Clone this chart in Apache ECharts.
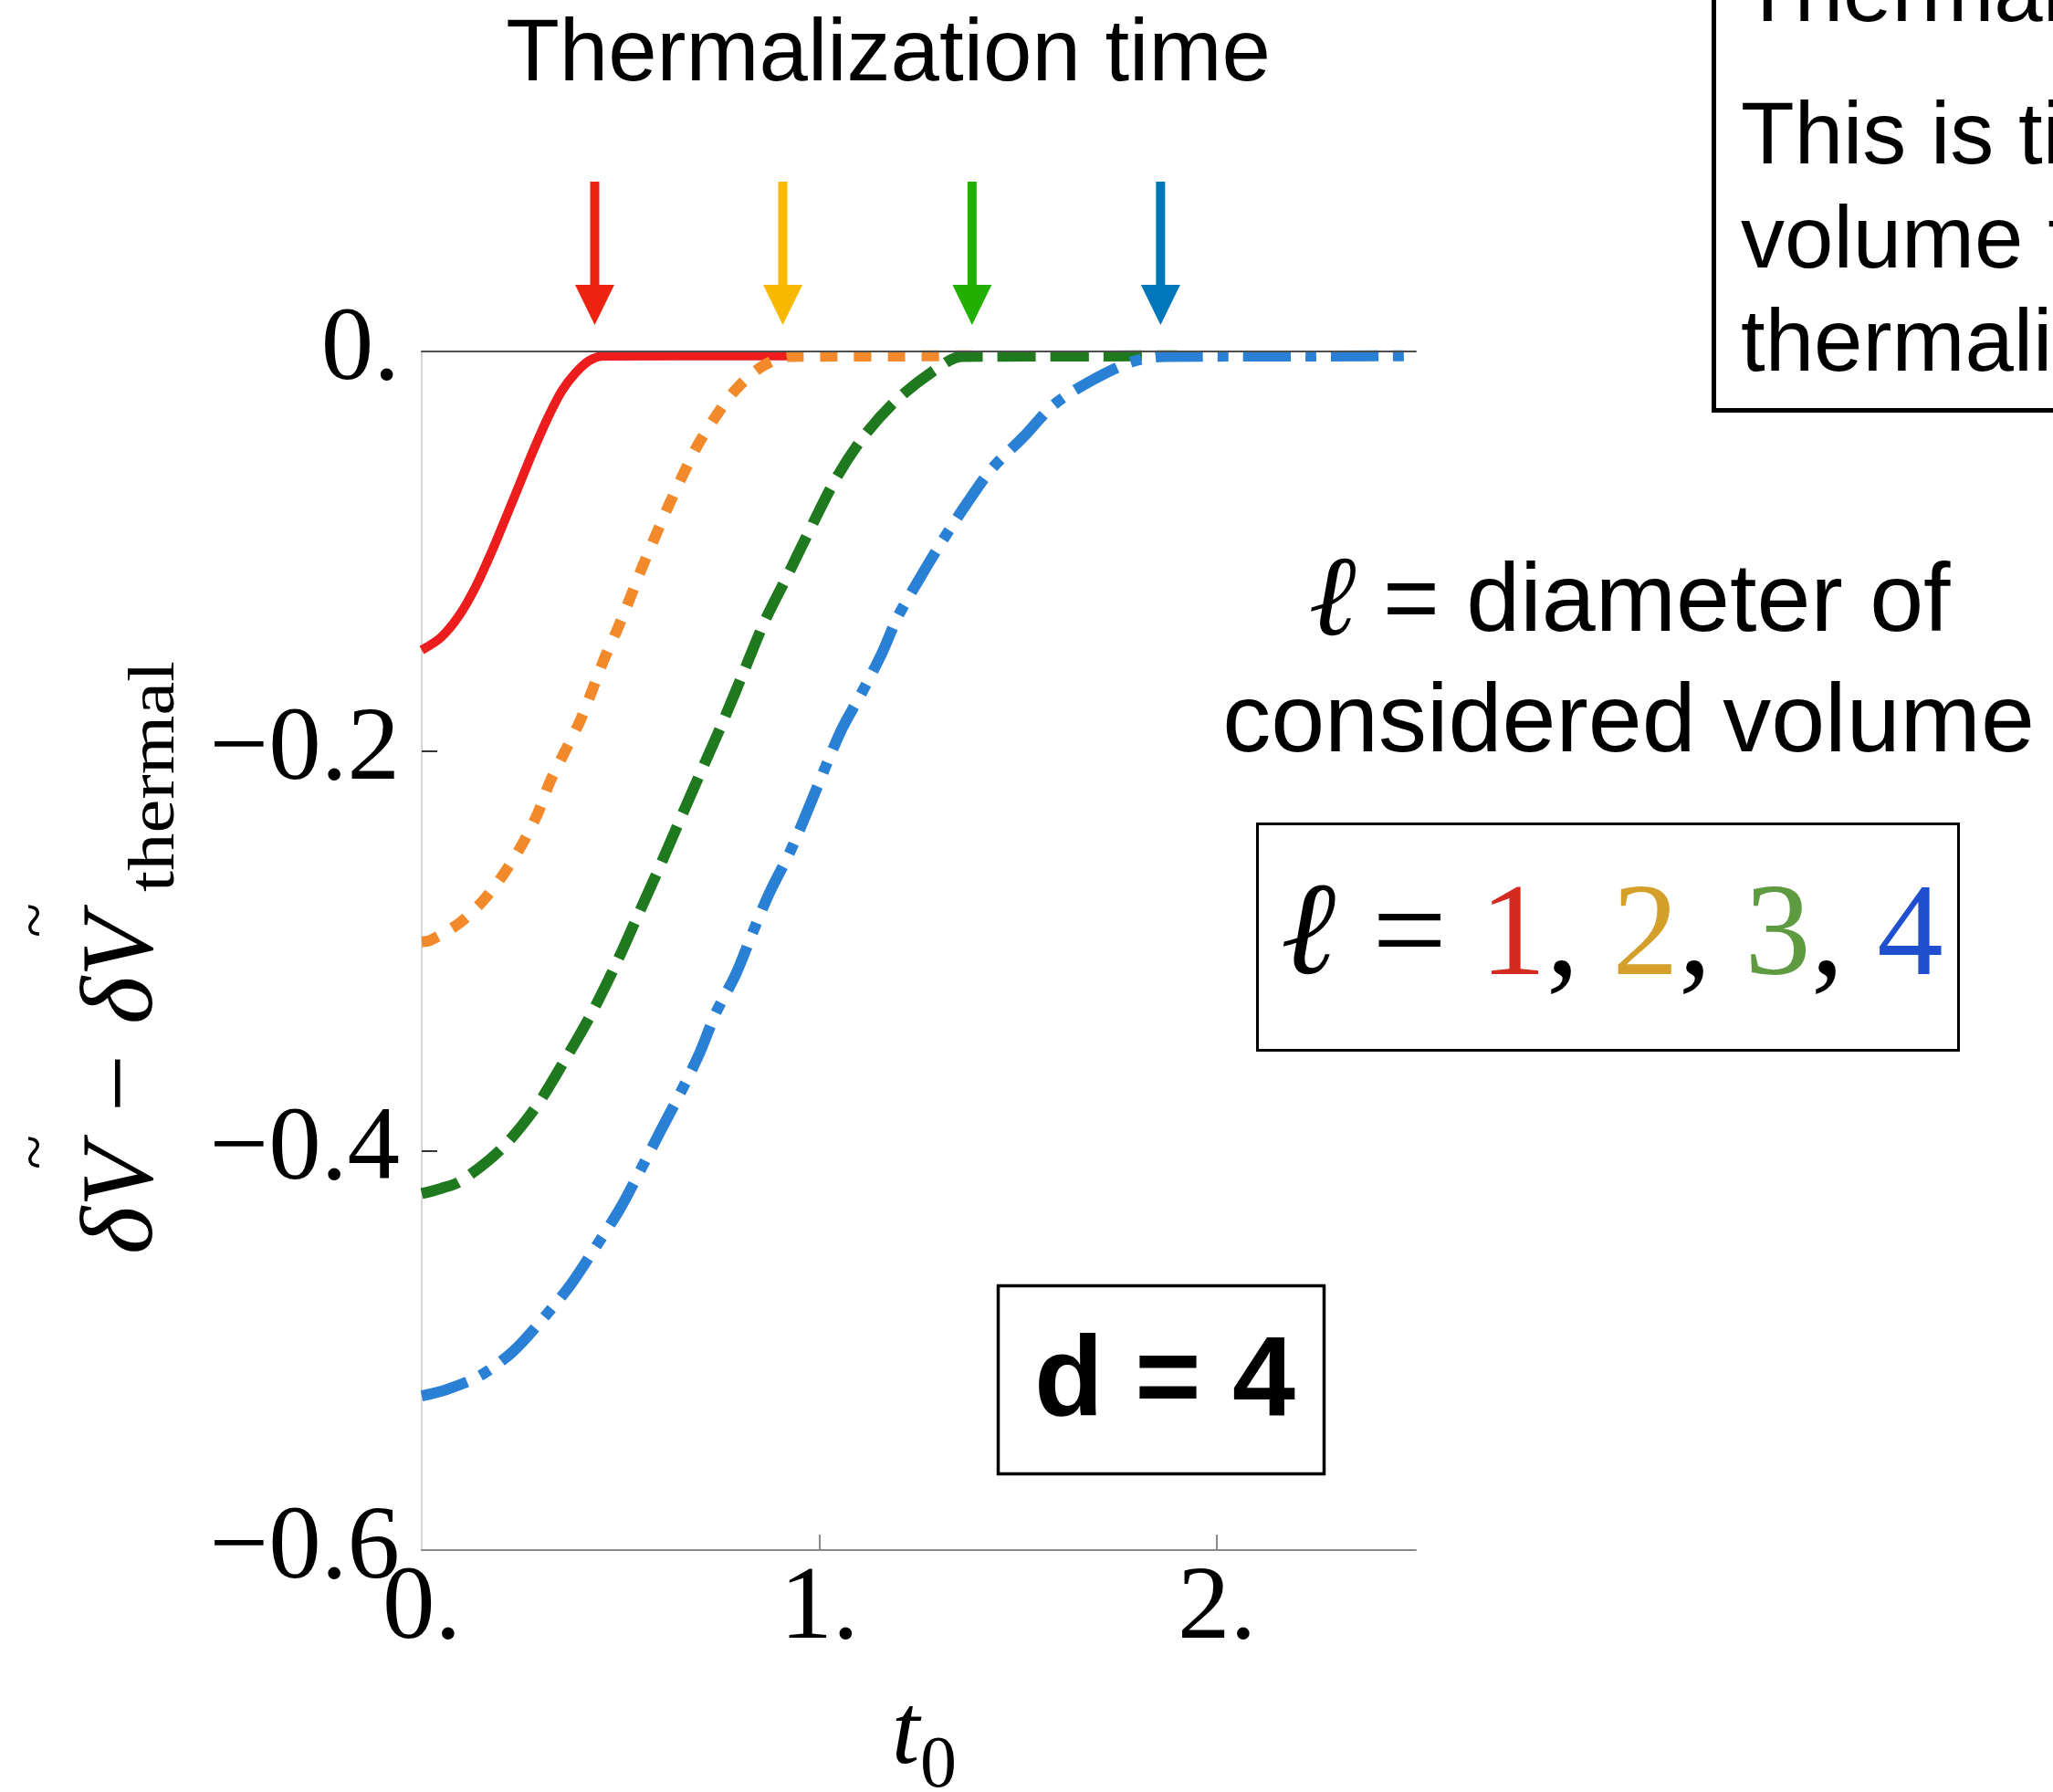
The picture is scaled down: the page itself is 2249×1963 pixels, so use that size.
<!DOCTYPE html>
<html><head><meta charset="utf-8">
<script src="https://cdn.jsdelivr.net/npm/echarts@6/dist/echarts.min.js"></script>
<style>html,body{margin:0;padding:0;background:#fff}#c{width:2249px;height:1963px}</style>
</head><body><div id="c"></div>
<script>
// ---- data ----
const l1T = [0, 0.048, 0.093, 0.135, 0.177, 0.215, 0.253, 0.284, 0.318, 0.352, 0.387, 0.421, 0.459, 0.93];
const l1V = [-0.1495, -0.1432, -0.1325, -0.118, -0.0997, -0.0815, -0.063, -0.048, -0.0328, -0.0198, -0.0107, -0.0046, -0.0023, -0.0022];

const l2T = [0, 0.021, 0.093, 0.154, 0.206, 0.25, 0.291, 0.322, 0.36, 0.398, 0.428, 0.459, 0.493, 0.524, 0.554, 0.588, 0.623, 0.657, 0.695, 0.741, 0.79, 0.855, 0.924, 1.40];
const l2V = [-0.2955, -0.2948, -0.2864, -0.275, -0.2616, -0.2476, -0.2316, -0.2156, -0.2003, -0.185, -0.170, -0.1539, -0.1386, -0.1234, -0.1082, -0.0922, -0.0762, -0.0617, -0.0465, -0.032, -0.019, -0.0076, -0.0025, -0.0022];

const l3T = [0, 0.048, 0.097, 0.198, 0.285, 0.356, 0.425, 0.486, 0.541, 0.596, 0.649, 0.703, 0.756, 0.809, 0.863, 0.924, 0.984, 1.045, 1.114, 1.198, 1.297, 1.358, 1.90];
const l3V = [-0.4215, -0.419, -0.4154, -0.3996, -0.3788, -0.356, -0.3321, -0.3077, -0.2834, -0.259, -0.2346, -0.210, -0.186, -0.1607, -0.1348, -0.1105, -0.086, -0.0625, -0.0419, -0.0236, -0.0084, -0.0025, -0.0022];

const l4T = [0, 0.063, 0.147, 0.23, 0.307, 0.375, 0.436, 0.497, 0.55, 0.6, 0.649, 0.699, 0.739, 0.79, 0.832, 0.874, 0.924, 0.962, 1.053, 1.105, 1.156, 1.198, 1.255, 1.308, 1.373, 1.434, 1.514, 1.59, 1.685, 1.784, 1.868, 2.5];
const l4V = [-0.5228, -0.5196, -0.5127, -0.5005, -0.4837, -0.467, -0.4487, -0.4296, -0.4098, -0.3904, -0.3717, -0.3511, -0.3314, -0.3116, -0.291, -0.2712, -0.2514, -0.2339, -0.1904, -0.1714, -0.1516, -0.1325, -0.1127, -0.0952, -0.0754, -0.0586, -0.0426, -0.0266, -0.0145, -0.0053, -0.0025, -0.0022];

const thermalizationTimes = [0.435, 0.908, 1.384, 1.858];
const arrowColors = ['#EE2211', '#F8B800', '#22B000', '#0077BB'];

const xLabelVals = [0, 1, 2];
const xLabelText = ['0.', '1.', '2.'];
const xTickMarks = [1, 2];
const yLabelVals = [0, -0.2, -0.4, -0.6];
const yLabelText = ['0.', '\u22120.2', '\u22120.4', '\u22120.6'];
const yTickMarks = [-0.2, -0.4];

const ellValues = ['1', '2', '3', '4'];

function zip(a, b) { return a.map((t, i) => [t, b[i]]); }
function lookup(vals, texts, v) {
  for (let i = 0; i < vals.length; i++) if (Math.abs(vals[i] - v) < 1e-6) return texts[i];
  return '';
}

const chart = echarts.init(document.getElementById('c'), null, { renderer: 'canvas', width: 2249, height: 1963 });
const serif = 'Liberation Serif';

const lineBase = { type: 'line', showSymbol: false, symbol: 'none', smooth: 0.3, animation: false, clip: true, z: 2 };

chart.setOption({
  animation: false,
  backgroundColor: '#ffffff',
  grid: { left: 462, right: 698, top: 385, bottom: 265, containLabel: false, outerBoundsMode: 'none' },
  xAxis: [
    {
      type: 'value', min: 0, max: 2.5, interval: 1, position: 'bottom',
      axisLine: { onZero: false, lineStyle: { color: '#8a8a8a', width: 2 } },
      axisTick: { inside: true, length: 17, customValues: xTickMarks, lineStyle: { color: '#8a8a8a', width: 2 } },
      axisLabel: { customValues: xLabelVals, formatter: v => lookup(xLabelVals, xLabelText, v),
                   fontFamily: serif, fontSize: 115, color: '#000', margin: 8, hideOverlap: false },
      splitLine: { show: false }
    },
    {
      type: 'value', min: 0, max: 2.5, position: 'top', z: 5,
      axisLine: { onZero: false, lineStyle: { color: '#4d4d4d', width: 2 } },
      axisTick: { show: false }, axisLabel: { show: false }, splitLine: { show: false }
    }
  ],
  yAxis: {
    type: 'value', min: -0.6, max: 0, interval: 0.2,
    axisLine: { onZero: false, lineStyle: { color: '#d6d6d6', width: 2 } },
    axisTick: { inside: true, length: 17, customValues: yTickMarks, lineStyle: { color: '#333', width: 2 } },
    axisLabel: { customValues: yLabelVals, formatter: v => lookup(yLabelVals, yLabelText, v),
                 fontFamily: serif, fontSize: 115, color: '#000', margin: 24, hideOverlap: false },
    splitLine: { show: false }
  },
  series: [
    Object.assign({}, lineBase, { name: 'ℓ=1', data: zip(l1T, l1V), lineStyle: { color: '#EE1D1D', width: 10, type: 'solid' } }),
    Object.assign({}, lineBase, { name: 'ℓ=2', data: zip(l2T, l2V), lineStyle: { color: '#F28A2C', width: 12, type: [19, 18], cap: 'butt' } }),
    Object.assign({}, lineBase, { name: 'ℓ=3', data: zip(l3T, l3V), lineStyle: { color: '#1F7A1F', width: 12, type: [42, 16], cap: 'butt' } }),
    Object.assign({}, lineBase, { name: 'ℓ=4', data: zip(l4T, l4V), lineStyle: { color: '#2A80D5', width: 12, type: [52, 16, 12, 16], cap: 'butt' } })
  ]
});

function txt(id, x, y, text, style, extra) {
  return Object.assign({
    type: 'text', id: id, x: x, y: y, z: 10,
    style: Object.assign({ text: text, fill: '#000', align: 'left', textAlign: 'left',
                           verticalAlign: 'middle', textVerticalAlign: 'middle' }, style)
  }, extra || {});
}

const g = [];
// arrows
thermalizationTimes.forEach((t, i) => {
  const px = chart.convertToPixel({ xAxisIndex: 0 }, t);
  g.push({ type: 'rect', id: 'shaft' + i, z: 10, shape: { x: px - 5, y: 199, width: 10, height: 116 }, style: { fill: arrowColors[i] } });
  g.push({ type: 'polygon', id: 'head' + i, z: 10, shape: { points: [[px - 21.5, 312], [px + 21.5, 312], [px, 356]] }, style: { fill: arrowColors[i] } });
});

// top title
g.push(txt('ttl', 973, 62, 'Thermalization time', { font: '96px "Liberation Sans"', align: 'center', textAlign: 'center' }));

// right top box
g.push({ type: 'rect', id: 'box1', z: 10, shape: { x: 1877.5, y: -20, width: 600, height: 469.5 }, style: { fill: 'none', stroke: '#000', lineWidth: 5 } });
g.push(txt('b1', 1907, -3, 'Thermalization time:', { font: '96px "Liberation Sans"' }));
g.push(txt('b2', 1907, 153, 'This is time for the', { font: '96px "Liberation Sans"' }));
g.push(txt('b3', 1907, 267, 'volume to', { font: '96px "Liberation Sans"' }));
g.push(txt('b4', 1907, 380, 'thermalize', { font: '96px "Liberation Sans"' }));

// ell = diameter of considered volume
g.push(txt('d1', 1785, 662, '{e|ℓ} = diameter of', {
  font: '106px "Liberation Sans"', align: 'center', textAlign: 'center',
  rich: { e: { fontFamily: serif, fontStyle: 'italic', fontSize: 125, fill: '#000' } }
}));
g.push(txt('d2', 1784, 794, 'considered volume', { font: '106px "Liberation Sans"', align: 'center', textAlign: 'center' }));

// ell = 1,2,3,4 box
g.push({ type: 'rect', id: 'box2', z: 10, shape: { x: 1377.5, y: 902.5, width: 768, height: 248 }, style: { fill: '#fff', stroke: '#000', lineWidth: 3 } });
const ellColors = ['#D42A20', '#D4A02A', '#5E9A40', '#1F4FCF'];
g.push(txt('ell', 1767, 1029,
  '{e|ℓ}{k| = }{a|' + ellValues[0] + '}{k|, }{b|' + ellValues[1] + '}{k|, }{c|' + ellValues[2] + '}{k|, }{d|' + ellValues[3] + '}', {
  font: '145px "Liberation Serif"', align: 'center', textAlign: 'center',
  rich: {
    e: { fontFamily: serif, fontSize: 145, fontStyle: 'italic', fontWeight: 'bold', fill: '#000' },
    k: { fontFamily: serif, fontSize: 145, fill: '#000' },
    a: { fontFamily: serif, fontSize: 145, fill: ellColors[0] },
    b: { fontFamily: serif, fontSize: 145, fill: ellColors[1] },
    c: { fontFamily: serif, fontSize: 145, fill: ellColors[2] },
    d: { fontFamily: serif, fontSize: 145, fill: ellColors[3] }
  }
}, { z: 11 }));

// d = 4 box
g.push({ type: 'rect', id: 'box3', z: 10, shape: { x: 1093.5, y: 1408.5, width: 357, height: 206 }, style: { fill: '#fff', stroke: '#000', lineWidth: 3.5 } });
g.push(txt('dd', 1276, 1516, 'd = 4', { font: 'bold 124px "Liberation Sans"', align: 'center', textAlign: 'center' }, { z: 11 }));

// x axis title t0
g.push(txt('t', 992, 1902, 't', { font: 'italic 110px "Liberation Serif"', align: 'center', textAlign: 'center' }));
g.push(txt('t0', 1008, 1936, '0', { font: '80px "Liberation Serif"' }));

// y axis title (rotated group)
g.push({
  type: 'group', id: 'ytitle', x: 172, y: 1374, rotation: Math.PI / 2,
  children: [
    txt('ym', 0, -35, 'δV \u2212 δV', { font: 'italic 112px "Liberation Serif"' }),
    txt('ys', 397, -1, 'thermal', { font: '72px "Liberation Serif"' }, { scaleX: 1.15 }),
    txt('yt1', 112, -130, '~', { font: '70px "Liberation Serif"', align: 'center', textAlign: 'center' }),
    txt('yt2', 366, -130, '~', { font: '70px "Liberation Serif"', align: 'center', textAlign: 'center' })
  ]
});

chart.setOption({ graphic: g });
</script>
</body></html>
